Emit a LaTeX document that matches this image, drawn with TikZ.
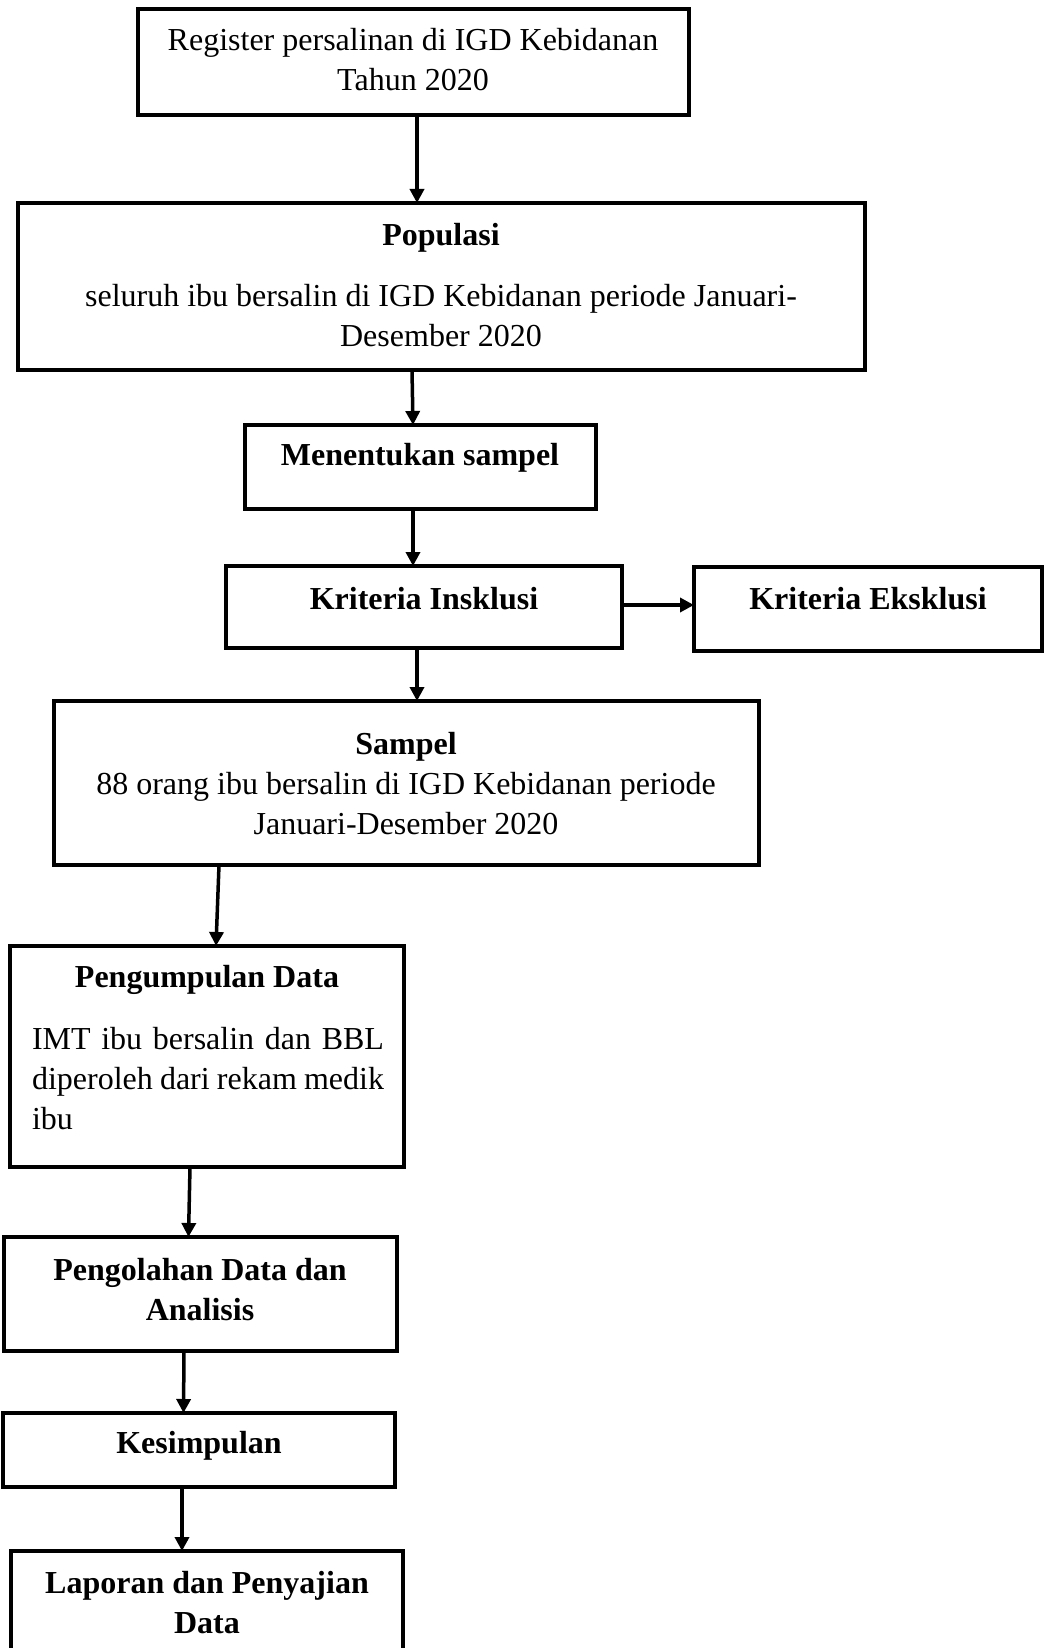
\documentclass[tikz,border=0pt]{standalone}
\usepackage{fontspec}
\setmainfont{Liberation Serif}
\usetikzlibrary{arrows.meta}
\begin{document}
\begin{tikzpicture}[x=1pt,y=-1pt,
  box/.style={draw=black,line width=3.5pt,rectangle,inner sep=0pt,outer sep=0pt},
  txt/.style={inner sep=0pt,outer sep=0pt,align=center,font=\fontsize{32}{40}\selectfont},
  btxt/.style={txt,font=\fontsize{32}{40}\selectfont\bfseries},
  arr/.style={line width=3.5pt,-{Triangle[length=14pt,width=14pt]}}]
\path[use as bounding box] (0,0) rectangle (1048,1648);
\clip (0,0) rectangle (1048,1648);
% boxes
\node[box,minimum width=551pt,minimum height=106pt] (b1) at (413.5,62) {};
\node[box,minimum width=847pt,minimum height=167pt] (b2) at (441.5,286.5) {};
\node[box,minimum width=351pt,minimum height=84pt] (b3) at (420.5,467) {};
\node[box,minimum width=396pt,minimum height=82pt] (b4) at (424,607) {};
\node[box,minimum width=348pt,minimum height=84pt] (b5) at (868,609) {};
\node[box,minimum width=705pt,minimum height=164pt] (b6) at (406.5,783) {};
\node[box,minimum width=394pt,minimum height=221pt] (b7) at (207,1056.5) {};
\node[box,minimum width=393pt,minimum height=114pt] (b8) at (200.5,1294) {};
\node[box,minimum width=392pt,minimum height=74pt] (b9) at (199,1450) {};
\node[box,minimum width=392pt,minimum height=119pt] (b10) at (207,1610.5) {};
% texts
\node[txt] (t1) at (413,60) {Register persalinan di IGD Kebidanan\\Tahun 2020};
\node[btxt] (t2a) at (441,238) {Populasi};
\node[txt] (t2b) at (441,316) {seluruh ibu bersalin di IGD Kebidanan periode Januari-\\Desember 2020};
\node[btxt] (t3) at (420,458) {Menentukan sampel};
\node[btxt] (t4) at (424,599) {Kriteria Insklusi};
\node[btxt] (t5) at (868,599) {Kriteria Eksklusi};
\node[txt] (t6) at (406,784) {\textbf{Sampel}\\88 orang ibu bersalin di IGD Kebidanan periode\\Januari-Desember 2020};
\node[btxt] (t7a) at (207,980) {Pengumpulan Data};
\node[txt,align=left] (t7b) at (208,1079) {\makebox[352pt][s]{IMT ibu bersalin dan BBL}\\\makebox[352pt][s]{diperoleh dari rekam medik}\\ibu};
\node[btxt] (t8) at (200,1290) {Pengolahan Data dan\\Analisis};
\node[btxt] (t9) at (199,1446) {Kesimpulan};
\node[btxt] (t10) at (207,1603) {Laporan dan Penyajian\\Data};
% connectors
\draw[arr] ([xshift=3.5pt]b1.south) -- ([xshift=-24.5pt]b2.north);
\draw[arr] ([xshift=-29.5pt]b2.south) -- ([xshift=-7.5pt]b3.north);
\draw[arr] ([xshift=-7.5pt]b3.south) -- ([xshift=-11pt]b4.north);
\draw[arr] ([xshift=-7pt]b4.south) -- ([xshift=10.5pt]b6.north);
\draw[arr] ([xshift=-187.5pt]b6.south) -- ([xshift=9pt]b7.north);
\draw[arr] ([xshift=-17pt]b7.south) -- ([xshift=-12pt]b8.north);
\draw[arr] ([xshift=-16.5pt]b8.south) -- ([xshift=-15.5pt]b9.north);
\draw[arr] ([xshift=-17pt]b9.south) -- ([xshift=-25pt]b10.north);
\draw[arr,line width=4.5pt] ([yshift=2pt]b4.east) -- ([yshift=4pt]b5.west);
\end{tikzpicture}
\end{document}
